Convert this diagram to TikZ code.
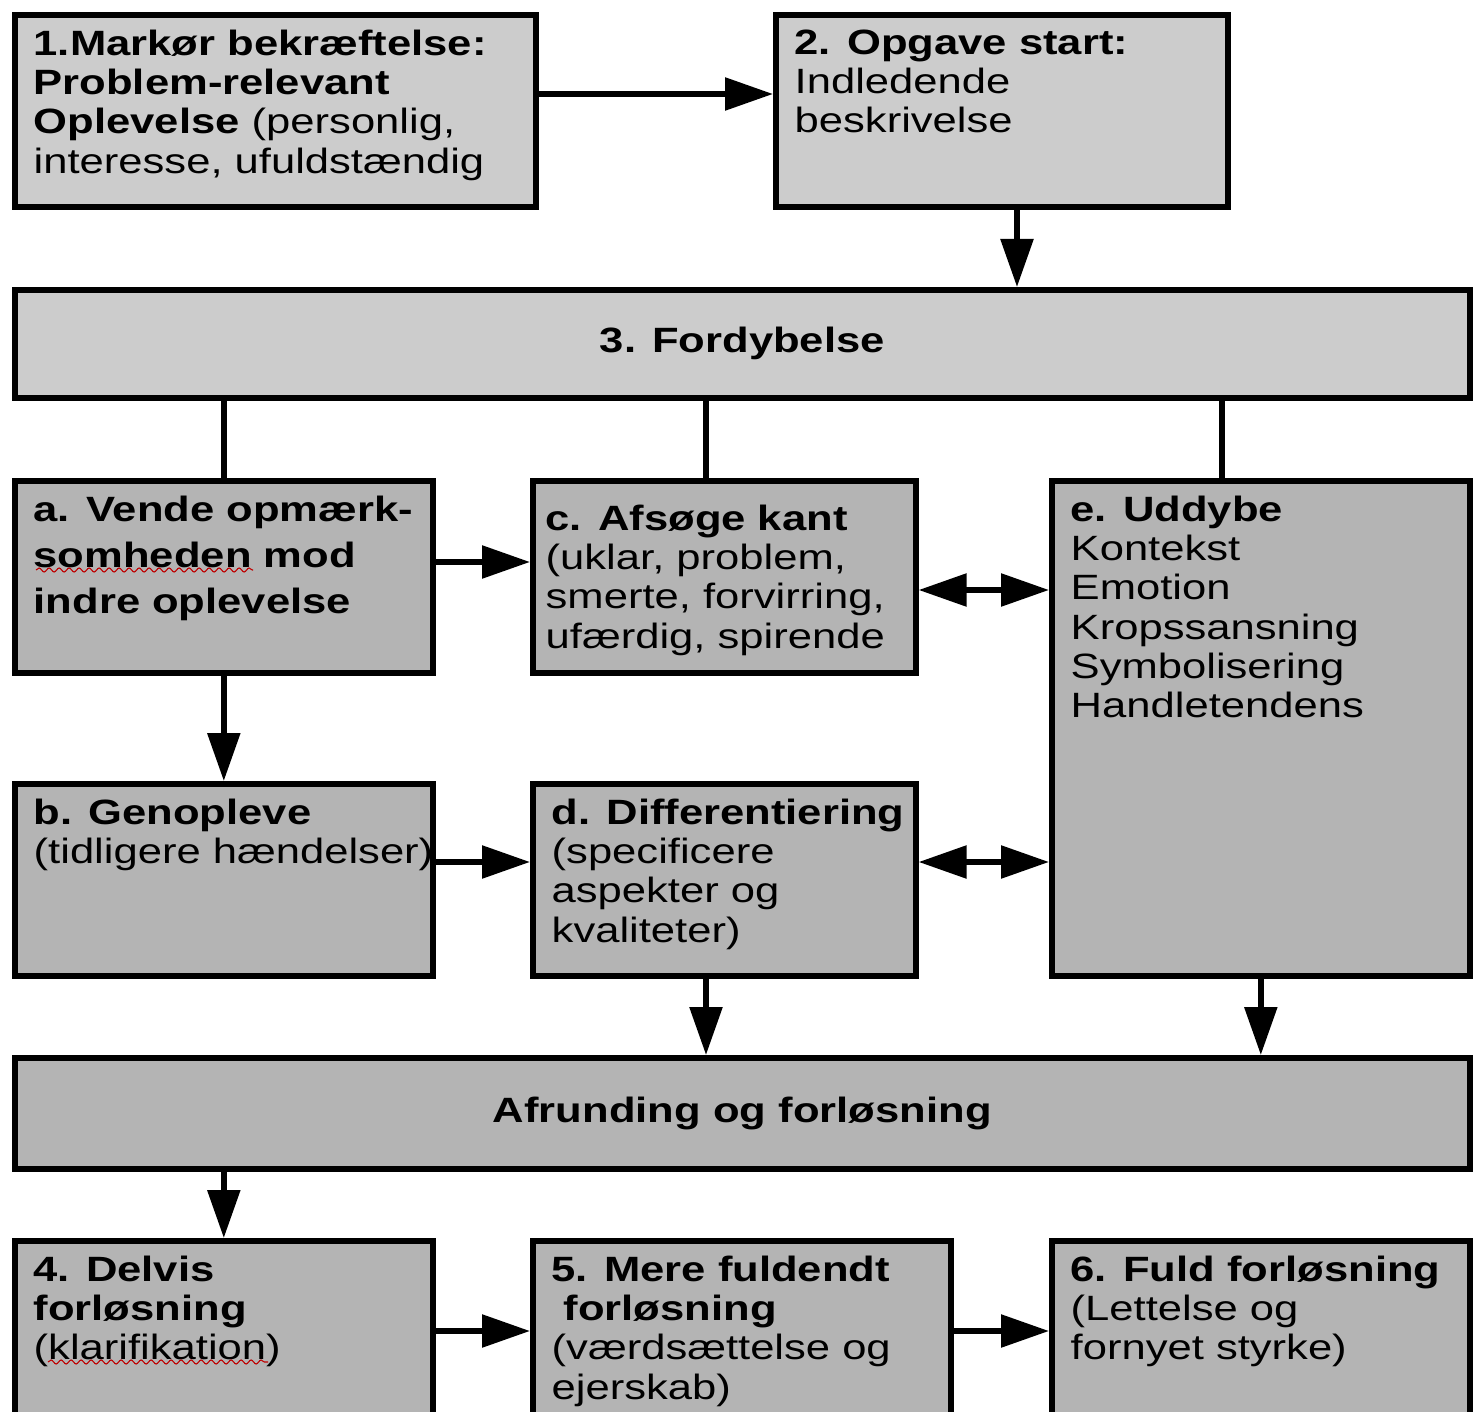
\documentclass[tikz,border=0pt]{standalone}
\usepackage{fontspec}
\setmainfont{Liberation Sans}[FakeStretch=1.24]
\usepackage{tikz}
\usetikzlibrary{arrows.meta,decorations.pathmorphing}

\definecolor{lysgraa}{RGB}{204,204,204}
\definecolor{moerkgraa}{RGB}{180,180,180}

\tikzset{
  kasse/.style={draw=black, line width=1.6pt, anchor=north west, inner sep=0pt, fill=moerkgraa},
  lyskasse/.style={kasse, fill=lysgraa},
  tekst/.style={anchor=north west, align=left, inner xsep=0.21cm, inner ysep=0.17cm, font=\fontsize{10}{11.2}\selectfont},
  pil/.style={line width=1.6pt, -{Triangle[length=4.8mm,width=3.2mm]}},
  dobbeltpil/.style={line width=1.6pt, {Triangle[length=4.8mm,width=3.2mm]}-{Triangle[length=4.8mm,width=3.2mm]}},
  linje/.style={line width=1.6pt},
  stavefejl/.style={red!75!black, line width=0.3pt, decorate, decoration={snake, amplitude=0.2mm, segment length=1mm}}
}

\begin{document}
\begin{tikzpicture}
\useasboundingbox (0,0) rectangle (14.75,-14.12);
\clip (0,0) rectangle (14.75,-14.12);

% top row
\node[lyskasse, minimum width=5.21cm, minimum height=1.92cm] (markoer) at (0.12,-0.12) {};
\node[tekst] (markoer-t) at (markoer.north west) {\textbf{1.Markør bekræftelse:}\\\textbf{Problem-relevant}\\\textbf{Oplevelse} (personlig,\\interesse, ufuldstændig};
\node[lyskasse, minimum width=4.52cm, minimum height=1.92cm] (opgave) at (7.73,-0.12) {};
\node[tekst] (opgave-t) at (opgave.north west) {\textbf{2. Opgave start:}\\Indledende\\beskrivelse};

\node[lyskasse, minimum width=14.55cm, minimum height=1.08cm, font=\fontsize{10}{11.2}\selectfont\bfseries] (fordybelse) at (0.12,-2.87) {3. Fordybelse};

% middle part
\node[kasse, minimum width=4.18cm, minimum height=1.92cm] (vende) at (0.12,-4.78) {};
\node[tekst, font=\fontsize{10}{13.1}\selectfont\bfseries] (vende-t) at (vende.north west) {a. Vende opmærk-\\somheden mod\\indre oplevelse};
\node[kasse, minimum width=3.83cm, minimum height=1.92cm] (afsoege) at (5.30,-4.78) {};
\node[tekst, inner xsep=0.15cm, inner ysep=0.26cm] (afsoege-t) at (afsoege.north west) {\textbf{c. Afsøge kant}\\(uklar, problem,\\smerte, forvirring,\\ufærdig, spirende};
\node[kasse, minimum width=4.18cm, minimum height=4.95cm] (uddybe) at (10.49,-4.78) {};
\node[tekst] (uddybe-t) at (uddybe.north west) {\textbf{e. Uddybe}\\Kontekst\\Emotion\\Kropssansning\\Symbolisering\\Handletendens};

\node[kasse, minimum width=4.18cm, minimum height=1.92cm] (genopleve) at (0.12,-7.81) {};
\node[tekst] (genopleve-t) at (genopleve.north west) {\textbf{b. Genopleve}\\(tidligere hændelser)};
\node[kasse, minimum width=3.83cm, minimum height=1.92cm] (diff) at (5.30,-7.81) {};
\node[tekst] (diff-t) at (diff.north west) {\textbf{d. Differentiering}\\(specificere\\aspekter og\\kvaliteter)};

\node[kasse, minimum width=14.55cm, minimum height=1.11cm, font=\fontsize{10}{11.2}\selectfont\bfseries] (afrunding) at (0.12,-10.55) {Afrunding og forløsning};

% bottom row (cut off by the page)
\node[kasse, minimum width=4.18cm, minimum height=2.3cm] (delvis) at (0.12,-12.38) {};
\node[tekst] (delvis-t) at (delvis.north west) {\textbf{4. Delvis}\\\textbf{forløsning}\\(klarifikation)};
\node[kasse, minimum width=4.18cm, minimum height=2.3cm] (mere) at (5.30,-12.38) {};
\node[tekst] (mere-t) at (mere.north west) {\textbf{5. Mere fuldendt}\\\hspace*{0.12cm}\textbf{forløsning}\\(værdsættelse og\\ejerskab)};
\node[kasse, minimum width=4.18cm, minimum height=2.3cm] (fuld) at (10.49,-12.38) {};
\node[tekst] (fuld-t) at (fuld.north west) {\textbf{6. Fuld forløsning}\\(Lettelse og\\fornyet styrke)};

% connectors
\draw[pil] (markoer.east |- 0,-0.94) -- (opgave.west |- 0,-0.94);
\draw[pil] (opgave.south -| 10.17,0) -- (fordybelse.north -| 10.17,0);
\draw[linje] (fordybelse.south -| vende.north) -- (vende.north);
\draw[linje] (fordybelse.south -| 7.06,0) -- (afsoege.north -| 7.06,0);
\draw[linje] (fordybelse.south -| 12.22,0) -- (uddybe.north -| 12.22,0);
\draw[pil] (vende.east |- 0,-5.62) -- (afsoege.west |- 0,-5.62);
\draw[pil] (vende.south) -- (genopleve.north);
\draw[dobbeltpil] (afsoege.east |- 0,-5.90) -- (uddybe.west |- 0,-5.90);
\draw[pil] (genopleve.east |- 0,-8.62) -- (diff.west |- 0,-8.62);
\draw[dobbeltpil] (diff.east |- 0,-8.62) -- (uddybe.west |- 0,-8.62);
\draw[pil] (diff.south -| 7.06,0) -- (afrunding.north -| 7.06,0);
\draw[pil] (uddybe.south) -- (afrunding.north -| uddybe.south);
\draw[pil] (afrunding.south -| delvis.north) -- (delvis.north);
\draw[pil] (delvis.east |- 0,-13.31) -- (mere.west |- 0,-13.31);
\draw[pil] (mere.east |- 0,-13.31) -- (fuld.west |- 0,-13.31);

% red spelling marks
\draw[stavefejl] (0.36,-5.70) -- (2.53,-5.70);
\draw[stavefejl] (0.48,-13.62) -- (2.68,-13.62);
\end{tikzpicture}
\end{document}
